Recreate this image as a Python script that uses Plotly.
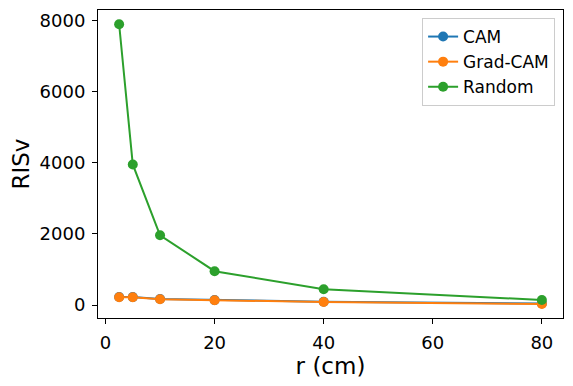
import plotly.graph_objects as go

# 数据
r_cm = [2.5, 5, 10, 20, 40, 80]
cam = [225, 222, 170, 138, 92, 45]
grad_cam = [216, 216, 160, 132, 84, 30]
random_ = [7890, 3950, 1960, 950, 445, 140]

colors = {'CAM': '#1f77b4', 'Grad-CAM': '#ff7f0e', 'Random': '#2ca02c'}

fig = go.Figure()
for name, ys in [('CAM', cam), ('Grad-CAM', grad_cam), ('Random', random_)]:
    fig.add_trace(go.Scatter(
        x=r_cm, y=ys, mode='lines+markers', name=name,
        line=dict(color=colors[name], width=2),
        marker=dict(size=10, color=colors[name])
    ))

axis_style = dict(
    showgrid=False, zeroline=False, showline=True, mirror=True,
    linecolor='black', linewidth=1, ticks='outside', ticklen=5,
    tickcolor='black', tickfont=dict(size=18, color='black'),
    ticklabelstandoff=3, automargin=False,
)

# 页面 body 默认有 8px 外边距，这里把图缩小 8px 来抵消
fig.update_layout(
    width=565, height=378,
    margin=dict(l=90, r=10, t=2, b=68),
    plot_bgcolor='white', paper_bgcolor='white',
    font=dict(family='DejaVu Sans', color='black'),
    xaxis=dict(axis_style, range=[-1.375, 83.875], tickvals=[0, 20, 40, 60, 80],
               title=dict(text='r (cm)', font=dict(size=23), standoff=2)),
    yaxis=dict(axis_style, range=[-365, 8290], tickvals=[0, 2000, 4000, 6000, 8000],
               title=dict(text='RISv', font=dict(size=23), standoff=5)),
    legend=dict(x=0.983, y=0.974, xanchor='right', yanchor='top',
                bgcolor='white', bordercolor='#cccccc', borderwidth=1,
                font=dict(size=17), tracegroupgap=0),
    showlegend=True,
)

fig.write_html('out.html')
